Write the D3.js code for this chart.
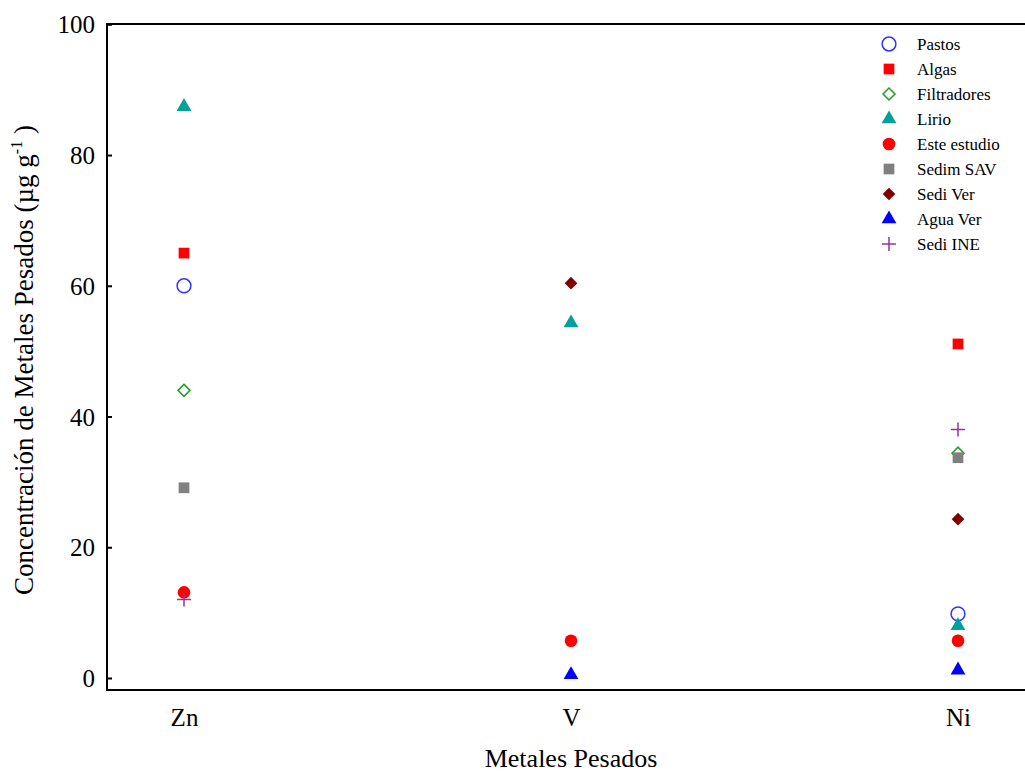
<!DOCTYPE html>
<html>
<head>
<meta charset="utf-8">
<script src="https://cdn.jsdelivr.net/npm/d3@7"></script>
<style>
  body { margin: 0; background: #fff; }
  svg { display: block; }
  svg text { font-family: "Liberation Serif", "Times New Roman", Times, serif; fill: #000; }
</style>
</head>
<body>
<svg id="chart" width="1025" height="774"></svg>
<script>
// Heavy metals: categories on x, concentration (µg g-1) on y
const metals = ["Zn", "V", "Ni"];
const seriesNames = ["Pastos", "Algas", "Filtradores", "Lirio", "Este estudio", "Sedim SAV", "Sedi Ver", "Agua Ver", "Sedi INE"];
// values per series, in the order Zn, V, Ni (null = no data)
const pastos      = [60,   null, 9.8];
const algas       = [65,   null, 51.1];
const filtradores = [44,   null, 34.4];
const lirio       = [87.4, 54.3, 8];
const esteEstudio = [13.1, 5.7,  5.7];
const sedimSAV    = [29.1, null, 33.7];
const sediVer     = [null, 60.4, 24.3];
const aguaVer     = [null, 0.5,  1.2];
const sediINE     = [12,   null, 38];
const yTicks = [0, 20, 40, 60, 80, 100];

const seriesValues = [pastos, algas, filtradores, lirio, esteEstudio, sedimSAV, sediVer, aguaVer, sediINE];

// square diamond (rotated square)
const rhombus = {
  draw(ctx, size) {
    const r = Math.sqrt(size / 2);
    ctx.moveTo(0, -r); ctx.lineTo(r, 0); ctx.lineTo(0, r); ctx.lineTo(-r, 0); ctx.closePath();
  }
};

const styles = {
  "Pastos":       { type: d3.symbolCircle,   size: 150, fill: "none",    stroke: "#3333ff" },
  "Algas":        { type: d3.symbolSquare,   size: 115, fill: "#ff0000", stroke: "none" },
  "Filtradores":  { type: rhombus,           size: 72,  fill: "none",    stroke: "#1fa01f" },
  "Lirio":        { type: d3.symbolTriangle, size: 95,  fill: "#00a09c", stroke: "none" },
  "Este estudio": { type: d3.symbolCircle,   size: 125, fill: "#ff0000", stroke: "none" },
  "Sedim SAV":    { type: d3.symbolSquare,   size: 115, fill: "#808080", stroke: "none" },
  "Sedi Ver":     { type: rhombus,           size: 80,  fill: "#800000", stroke: "none" },
  "Agua Ver":     { type: d3.symbolTriangle, size: 95,  fill: "#0000ff", stroke: "none" },
  "Sedi INE":     { type: null,              size: 0,   fill: "none",    stroke: "#993399" }
};

const svg = d3.select("#chart");
const plotLeft = 107, plotTop = 24, plotBottom = 690, plotRight = 1025;

const x = d3.scalePoint().domain(metals).range([184, 958]);
const y = d3.scaleLinear().domain([0, 100]).range([678, 24.3]);

// frame: left, top and bottom lines
svg.append("line").attr("x1", plotLeft).attr("x2", plotLeft).attr("y1", plotTop).attr("y2", plotBottom)
  .attr("stroke", "#000").attr("stroke-width", 2);
svg.append("line").attr("x1", plotLeft - 1).attr("x2", plotRight).attr("y1", plotTop).attr("y2", plotTop)
  .attr("stroke", "#000").attr("stroke-width", 2);
svg.append("line").attr("x1", plotLeft - 1).attr("x2", plotRight).attr("y1", plotBottom).attr("y2", plotBottom)
  .attr("stroke", "#000").attr("stroke-width", 2);

// y axis with inward ticks
const yAxis = svg.append("g").attr("transform", `translate(${plotLeft},0)`)
  .call(d3.axisLeft(y).tickValues(yTicks).tickSize(-5).tickPadding(12));
yAxis.attr("font-family", null).attr("font-size", null);
yAxis.select(".domain").remove();
yAxis.selectAll(".tick line").attr("stroke", "#000").attr("stroke-width", 2);
yAxis.selectAll(".tick text").style("font-size", "25px").attr("dy", "0.34em");

// x axis labels only
const xAxis = svg.append("g").attr("transform", `translate(0,${plotBottom})`)
  .call(d3.axisBottom(x).tickSize(0).tickPadding(18));
xAxis.attr("font-family", null).attr("font-size", null);
xAxis.select(".domain").remove();
xAxis.selectAll(".tick text").style("font-size", "25px");

// axis titles
svg.append("text").attr("x", 571).attr("y", 767).attr("text-anchor", "middle")
  .style("font-size", "26px").text("Metales Pesados");

const yTitle = svg.append("text")
  .attr("transform", "translate(33,360) rotate(-90)")
  .attr("text-anchor", "middle").style("font-size", "27px");
yTitle.append("tspan").text("Concentración de Metales Pesados (µg g");
yTitle.append("tspan").attr("dy", -11).style("font-size", "16px").text("-1");
yTitle.append("tspan").attr("dy", 11).text(" )");

function drawMarker(g, name, cx, cy) {
  const s = styles[name];
  if (name === "Sedi INE") {
    g.append("path")
      .attr("d", `M${cx - 7},${cy}H${cx + 7}M${cx},${cy - 7}V${cy + 7}`)
      .attr("stroke", s.stroke).attr("stroke-width", 1.5).attr("fill", "none");
    return;
  }
  g.append("path")
    .attr("d", d3.symbol().type(s.type).size(s.size)())
    .attr("transform", `translate(${cx},${cy})`)
    .attr("fill", s.fill)
    .attr("stroke", s.stroke)
    .attr("stroke-width", s.stroke === "none" ? 0 : 1.5);
}

// points, series drawn in legend order
const pts = svg.append("g");
seriesNames.forEach((name, i) => {
  seriesValues[i].forEach((v, j) => {
    if (v === null) return;
    drawMarker(pts, name, x(metals[j]), y(v));
  });
});

// legend
const legend = svg.append("g");
seriesNames.forEach((name, i) => {
  const ly = 44 + i * 25;
  drawMarker(legend, name, 889, ly);
  legend.append("text").attr("x", 917).attr("y", ly + 5.5)
    .style("font-size", "17px").text(name);
});
</script>
</body>
</html>
